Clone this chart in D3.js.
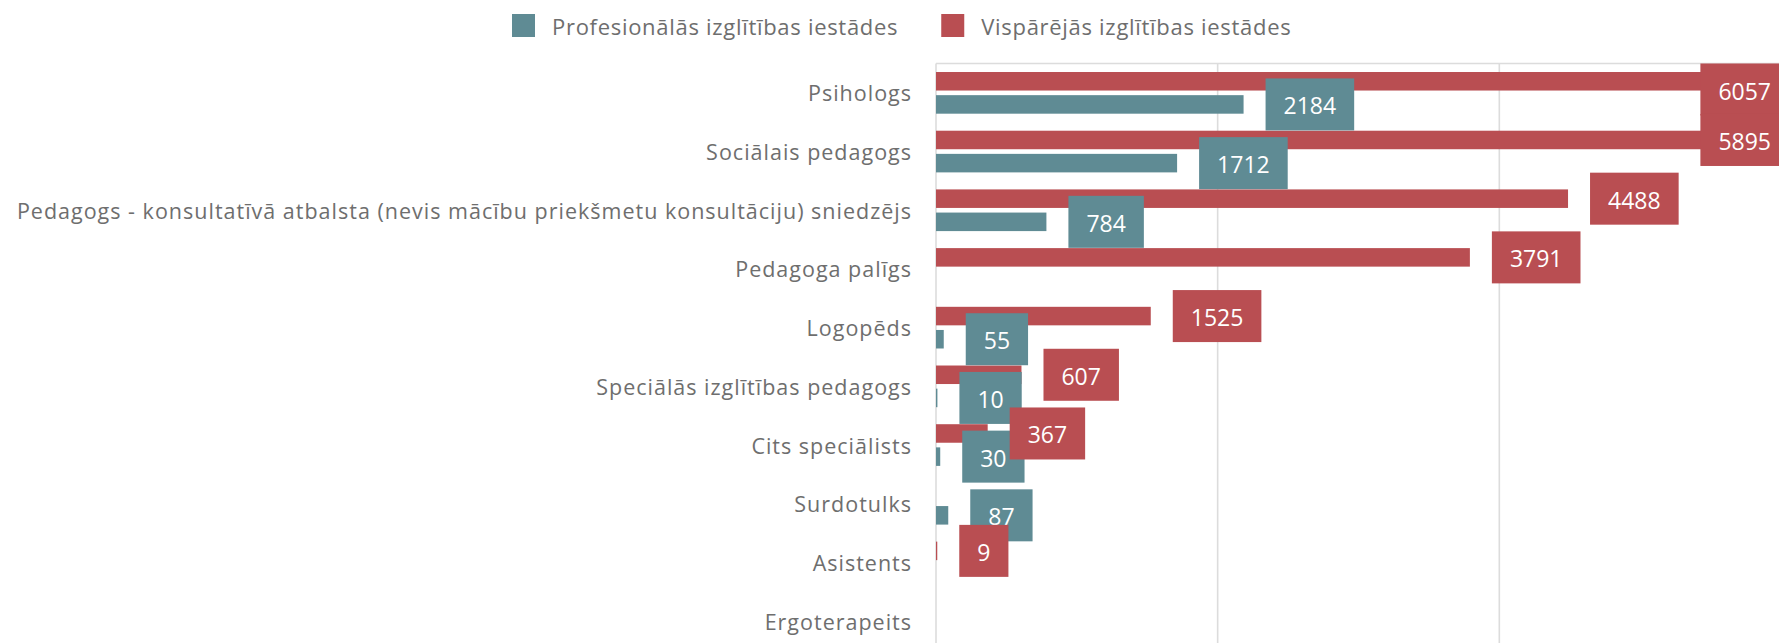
<!DOCTYPE html>
<html>
<head>
<meta charset="utf-8">
<script src="https://cdn.jsdelivr.net/npm/d3@7"></script>
<style>
  html, body { margin: 0; padding: 0; background: #fff; }
  svg { display: block; font-family: "Open Sans", "Noto Sans", sans-serif; }
</style>
</head>
<body>
<svg id="chart" width="1779" height="643"></svg>
<script>
// data
const categories = [
  'Psihologs',
  'Sociālais pedagogs',
  'Pedagogs - konsultatīvā atbalsta (nevis mācību priekšmetu konsultāciju) sniedzējs',
  'Pedagoga palīgs',
  'Logopēds',
  'Speciālās izglītības pedagogs',
  'Cits speciālists',
  'Surdotulks',
  'Asistents',
  'Ergoterapeits'
];
const profesionalas = [2184, 1712, 784, null, 55, 10, 30, 87, null, null];
const visparejas = [6057, 5895, 4488, 3791, 1525, 607, 367, null, 9, null];
const seriesNames = ['Profesionālās izglītības iestādes', 'Vispārējās izglītības iestādes'];
const xTicks = [0, 2000, 4000, 6000];

const colors = { prof: '#5f8b94', visp: '#b94e52' };
const svg = d3.select('#chart');

const plot = { left: 936, right: 1789, top: 63.5, bottom: 650.5 };

const x = d3.scaleLinear()
  .domain([0, d3.max(visparejas.concat(profesionalas))])
  .range([plot.left, plot.right]);

const y = d3.scaleBand()
  .domain(categories)
  .range([plot.top, plot.bottom])
  .paddingInner(0.29)
  .paddingOuter(0.145);

// red series sits above the teal one inside each group
const ySub = d3.scaleBand()
  .domain(['visp', 'prof'])
  .range([0, y.bandwidth()])
  .paddingInner(0.2);

// gridlines
svg.append('g')
  .selectAll('line')
  .data(xTicks)
  .enter().append('line')
    .attr('x1', d => x(d)).attr('x2', d => x(d))
    .attr('y1', plot.top).attr('y2', 643)
    .attr('stroke', '#dcdcdc')
    .attr('stroke-width', 1.6);

svg.append('line')
  .attr('x1', plot.left).attr('x2', 1779)
  .attr('y1', plot.top).attr('y2', plot.top)
  .attr('stroke', '#dcdcdc')
  .attr('stroke-width', 1.6);

// category labels
svg.append('g')
  .selectAll('text')
  .data(categories)
  .enter().append('text')
    .attr('x', plot.left - 24)
    .attr('y', d => y(d) + y.bandwidth() / 2)
    .attr('text-anchor', 'end')
    .attr('dominant-baseline', 'central')
    .attr('fill', '#6e6e6e')
    .style('font-size', '21.5px')
    .style('letter-spacing', '1px')
    .text(d => d);

const series = [
  { key: 'visp', values: visparejas },
  { key: 'prof', values: profesionalas }
];

// bars
series.forEach(s => {
  svg.append('g')
    .selectAll('rect')
    .data(categories.map((c, i) => ({ c, v: s.values[i] })).filter(d => d.v != null))
    .enter().append('rect')
      .attr('x', x(0))
      .attr('y', d => y(d.c) + ySub(s.key))
      .attr('width', d => x(d.v) - x(0))
      .attr('height', ySub.bandwidth())
      .attr('fill', colors[s.key]);
});

// data labels, teal first so red ones end up on top
const boxH = 52;
['prof', 'visp'].forEach(key => {
  const s = series.find(t => t.key === key);
  const g = svg.append('g');
  categories.forEach((c, i) => {
    const v = s.values[i];
    if (v == null) return;
    const lab = g.append('g');
    const rect = lab.append('rect').attr('fill', colors[key]);
    const txt = lab.append('text')
      .attr('fill', '#fff')
      .attr('text-anchor', 'middle')
      .attr('dominant-baseline', 'central')
      .style('font-size', '23px')
      .text(v);
    const w = txt.node().getComputedTextLength() + 36;
    const cy = y(c) + ySub(key) + ySub.bandwidth() / 2;
    const bx = Math.min(x(v) + 22, plot.right - w);
    const by = Math.max(plot.top, Math.min(cy - boxH / 2, plot.bottom - boxH));
    rect.attr('x', bx).attr('y', by).attr('width', w).attr('height', boxH);
    txt.attr('x', bx + w / 2).attr('y', by + boxH / 2 + 1);
  });
});

// legend
const legend = svg.append('g');
let lx = 512;
[['prof', seriesNames[0]], ['visp', seriesNames[1]]].forEach(([key, name]) => {
  legend.append('rect')
    .attr('x', lx).attr('y', 14)
    .attr('width', 23).attr('height', 23)
    .attr('fill', colors[key]);
  const t = legend.append('text')
    .attr('x', lx + 40).attr('y', 26)
    .attr('dominant-baseline', 'central')
    .attr('fill', '#6e6e6e')
    .style('font-size', '22px')
    .style('letter-spacing', '0.7px')
    .text(name);
  lx = lx + 40 + t.node().getComputedTextLength() + 43;
});
</script>
</body>
</html>
